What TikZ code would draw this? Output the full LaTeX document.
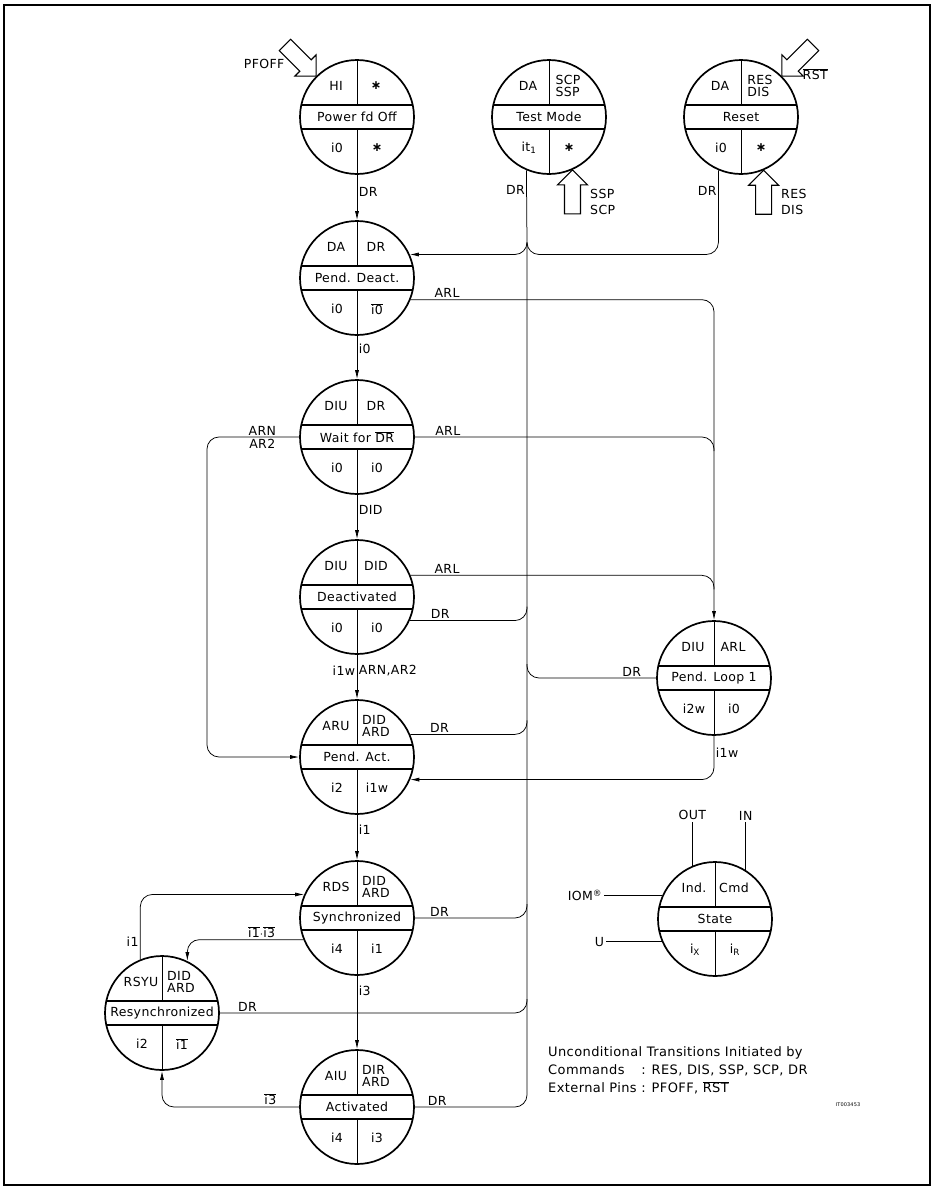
\documentclass[tikz,border=0pt]{standalone}
\usepackage{fontspec}
\newfontfamily\diagfont[LetterSpace=3]{DejaVu Sans}
\usetikzlibrary{arrows.meta,positioning,calc}

\newcommand{\ovl}[1]{$\overline{\mbox{#1}}$}
\newcommand{\starsym}{{\bfseries ∗}}

\tikzset{
  statecirc/.style={circle, draw, line width=1.7pt, minimum size=114pt, inner sep=0pt},
  bandline/.style={line width=1.6pt},
  divline/.style={line width=0.9pt},
  flow/.style={line width=0.75pt, rounded corners=12pt},
  flowarrow/.style={flow, -{Latex[length=9pt,width=4pt]}},
  lbl/.style={font=\diagfont\fontsize{12.5}{12.5}\selectfont, inner sep=1.5pt},
  tallbl/.style={font=\diagfont\fontsize{12.5}{16.5}\selectfont, inner sep=0pt, align=left},
  notelbl/.style={font=\diagfont\fontsize{13}{18}\selectfont, inner sep=0pt},
  blk/.style={line width=1.1pt, line join=miter, fill=white},
}

% one state: name, position, top left, top right, state name, bottom left, bottom right
\newcommand{\statenode}[7]{%
  \node[statecirc] (#1) at (#2) {};
  \begin{scope}[shift={(#1.center)}]
    \draw[bandline] (-55.7,-12) -- (55.7,-12) (-55.7,12) -- (55.7,12);
    \draw[divline] (0,-57) -- (0,-12) (0,12) -- (0,57);
    \node[lbl] (#1-tl) at (-21,-31) {#3};
    \node[lbl, align=left] (#1-tr) at (19,-31) {#4};
    \node[lbl] (#1-nm) at (0,0) {#5};
    \node[lbl] (#1-bl) at (-20,31) {#6};
    \node[lbl] (#1-br) at (20,31) {#7};
  \end{scope}}

% hollow input arrow, tip at #1, pointing along angle #2
\newcommand{\blockarrow}[2]{%
  \draw[blk, shift={(#1)}, rotate=#2] (0,0) -- (-15,-15) -- (-15,-8) -- (-44,-8) -- (-44,8) -- (-15,8) -- (-15,15) -- cycle;}

\begin{document}
\begin{tikzpicture}[x=1pt, y=-1pt]
\useasboundingbox (0,0) rectangle (934,1191);
\draw[line width=1.3pt] (4,5) rectangle (930,1185);

% states
\statenode{power}{357,117}{HI}{\starsym}{Power fd Off}{i0}{\starsym}
\statenode{testm}{549,117}{DA}{SCP\\SSP}{Test Mode}{it\textsubscript{1}}{\starsym}
\statenode{reset}{741,117}{DA}{RES\\DIS}{Reset}{i0}{\starsym}
\statenode{pdeact}{357,278}{DA}{DR}{Pend. Deact.}{i0}{\ovl{i0}}
\statenode{wait}{357,437}{DIU}{DR}{Wait for \ovl{DR}}{i0}{i0}
\statenode{deact}{357,597}{DIU}{DID}{Deactivated}{i0}{i0}
\statenode{pendact}{357,757}{ARU}{DID\\ARD}{Pend. Act.}{i2}{i1w}
\statenode{sync}{357,918}{RDS}{DID\\ARD}{Synchronized}{i4}{i1}
\statenode{resync}{162,1013}{RSYU}{DID\\ARD}{Resynchronized}{i2}{\ovl{i1}}
\statenode{act}{357,1107}{AIU}{DIR\\ARD}{Activated}{i4}{i3}
\statenode{ploop}{714,678}{DIU}{ARL}{Pend. Loop 1}{i2w}{i0}

% external inputs
\blockarrow{power.135}{-45}
\blockarrow{reset.45}{-135}
\blockarrow{testm.-66}{90}
\blockarrow{reset.-67}{90}
\node[lbl, anchor=east] (pfofflbl) at (286,64) {PFOFF};
\node[lbl, anchor=west] (rstlbl) at (801,74) {\ovl{RST}};
\node[tallbl, anchor=west] (ssplbl) at (590,202) {SSP\\SCP};
\node[tallbl, anchor=west] (reslbl) at (781,202) {RES\\DIS};

% DR bus
\coordinate (cusp) at (527,243);
\coordinate (leftrail) at (207,600);
\draw[flow] (testm.-113) -- node[lbl, left, pos=0.27] {DR} (cusp);
\draw[flowarrow] (cusp) |- (pdeact.24);
\draw[flow] (reset.-113) -- node[lbl, left, pos=0.24] {DR} (reset.-113 |- pdeact.24) -- (cusp |- pdeact.24) -- (cusp);
\draw[flow] (act.east) -- node[lbl, above, pos=0.2] {DR} (act.east -| cusp) -- (cusp);
\draw[flow] (deact.-24) -- node[lbl, above, pos=0.26] {DR} (deact.-24 -| cusp) -- ([yshift=14pt]deact.-24 -| cusp);
\draw[flow] (ploop.west) -- node[lbl, above, pos=0.19] {DR} (ploop.west -| cusp) -- ([yshift=14pt]ploop.west -| cusp);
\draw[flow] (pendact.23) -- node[lbl, above, pos=0.25] {DR} (pendact.23 -| cusp) -- ([yshift=14pt]pendact.23 -| cusp);
\draw[flow] (sync.east) -- node[lbl, above, pos=0.22] {DR} (sync.east -| cusp) -- ([yshift=14pt]sync.east -| cusp);
\draw[flow] (resync.east) -- node[lbl, above, pos=0.09] {DR} (resync.east -| cusp) -- ([yshift=14pt]resync.east -| cusp);

% main column
\draw[flowarrow] (power) -- node[lbl, right, pos=0.38] {DR} (pdeact);
\draw[flowarrow] (pdeact) -- node[lbl, right, pos=0.29] {i0} (wait);
\draw[flowarrow] (wait) -- node[lbl, right, pos=0.35] {DID} (deact);
\draw[flowarrow] (deact) -- node[lbl, left, pos=0.35] {i1w} node[lbl, right, pos=0.35] {ARN,AR2} (pendact);
\draw[flowarrow] (pendact) -- node[lbl, right, pos=0.32] {i1} (sync);
\draw[flowarrow] (sync) -- node[lbl, right, pos=0.2] {i3} (act);

% loop transitions
\draw[flowarrow] (pdeact.-22) -- node[lbl, above, pos=0.12] {ARL} (pdeact.-22 -| ploop) -- (ploop.north);
\draw[flow] (wait.east) -- node[lbl, above, pos=0.11] {ARL} (wait.east -| ploop) -- ([yshift=-14pt]wait.east -| ploop);
\draw[flow] (deact.22) -- node[lbl, above, pos=0.12] {ARL} (deact.22 -| ploop) -- ([yshift=-14pt]deact.22 -| ploop);
\draw[flowarrow] (ploop.south) -- node[lbl, right, pos=0.39] {i1w} (ploop.south |- pendact.-23) -- (pendact.-23);
\draw[flowarrow] (wait.west) -- node[lbl, above, pos=0.4] {ARN} node[lbl, below, pos=0.4] {AR2} (wait.west -| leftrail) -- (pendact.west -| leftrail) -- (pendact.west);

% resynchronisation
\draw[flowarrow] (sync.202) -- node[lbl, above, pos=0.36] {\ovl{i1}$\cdot$\ovl{i3}} (sync.202 -| resync.64) -- (resync.64);
\draw[flowarrow] (resync.112) -- node[lbl, left, pos=0.27] {i1} (resync.112 |- sync.156) -- (sync.156);
\draw[flowarrow] (act.west) -- node[lbl, above, pos=0.21] {\ovl{i3}} (act.west -| resync.south) -- (resync.south);

% key
\statenode{legend}{715,919}{Ind.}{Cmd}{State}{i\textsubscript{X}}{i\textsubscript{R}}
\coordinate (outend) at (693,822);
\coordinate (inend) at (745,822);
\coordinate (iomend) at (604,896);
\coordinate (uend) at (606,941);
\draw[flow] (legend.113) -- (legend.113 |- outend) node[lbl, above] (outlbl) {OUT};
\draw[flow] (legend.58) -- (legend.58 |- inend) node[lbl, above] (inlbl) {IN};
\draw[flow] (legend.156) -- (legend.156 -| iomend) node[lbl, left] (iomlbl) {IOM\textsuperscript{®}};
\draw[flow] (legend.203) -- (legend.203 -| uend) node[lbl, left] (ulbl) {U};

\node[notelbl, anchor=north west] (note) at (548,1044) {%
  \begin{tabular}{@{}l@{\ }l@{}}
  \multicolumn{2}{@{}l@{}}{Unconditional Transitions Initiated by}\\
  Commands & : RES, DIS, SSP, SCP, DR\\
  External Pins & : PFOFF, \ovl{RST}
  \end{tabular}};
\node[font=\diagfont\fontsize{5}{5}\selectfont, inner sep=0pt] (code) at (848,1105) {IT003453};
\end{tikzpicture}
\end{document}
